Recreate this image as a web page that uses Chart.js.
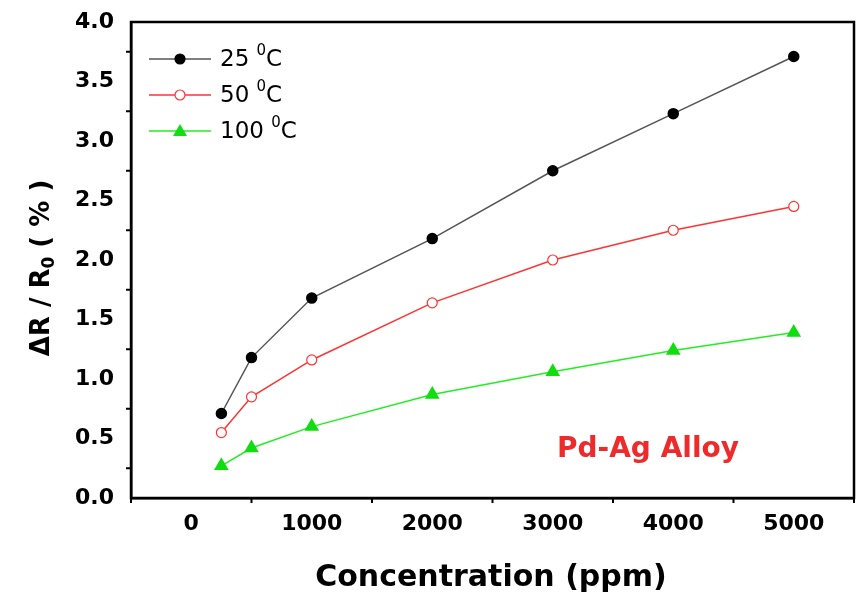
<!DOCTYPE html>
<html>
<head>
<meta charset="utf-8">
<script src="https://cdn.jsdelivr.net/npm/chart.js@4.4.1/dist/chart.umd.min.js"></script>
<style>
  html, body { margin: 0; padding: 0; background: #fff; }
  #wrap { width: 868px; height: 595px; }
</style>
</head>
<body>
<div id="wrap"><canvas id="chart"></canvas></div>
<script>
// concentrations (ppm)
const concentration = [250, 500, 1000, 2000, 3000, 4000, 5000];
// dR/R0 (%) per temperature
const temp25 = [0.71, 1.18, 1.68, 2.18, 2.75, 3.23, 3.71];
const temp50 = [0.55, 0.85, 1.16, 1.64, 2.00, 2.25, 2.45];
const temp100 = [0.27, 0.42, 0.60, 0.87, 1.06, 1.24, 1.39];
const seriesNames = ["25", "50", "100"];
const xTicks = [0, 1000, 2000, 3000, 4000, 5000];

const toPts = arr => arr.map((v, i) => ({ x: concentration[i], y: v }));
const FAM = "'DejaVu Sans', 'Liberation Sans', Arial, sans-serif";

// draws frame, minor ticks, legend, axis titles and note
const extras = {
  id: "extras",
  afterDraw(chart) {
    const ctx = chart.ctx;
    const a = chart.chartArea;
    const xs = chart.scales.x, ys = chart.scales.y;
    ctx.save();
    // frame
    ctx.strokeStyle = "#000";
    ctx.lineWidth = 2.5;
    ctx.strokeRect(a.left, a.top, a.right - a.left, a.bottom - a.top);
    // minor ticks
    ctx.lineWidth = 2;
    for (let v = -500; v <= 5500; v += 1000) {
      const px = xs.getPixelForValue(v);
      ctx.beginPath(); ctx.moveTo(px, a.bottom); ctx.lineTo(px, a.bottom + 5); ctx.stroke();
    }
    for (let v = 0.25; v < 4; v += 0.5) {
      const py = ys.getPixelForValue(v);
      ctx.beginPath(); ctx.moveTo(a.left, py); ctx.lineTo(a.left - 5, py); ctx.stroke();
    }
    // legend
    chart.data.datasets.forEach((ds, i) => {
      const y = 59 + i * 36;
      ctx.strokeStyle = ds.borderColor;
      ctx.lineWidth = 1.5;
      ctx.beginPath(); ctx.moveTo(149, y); ctx.lineTo(211, y); ctx.stroke();
      if (ds.pointStyle === "triangle") {
        ctx.fillStyle = ds.pointBackgroundColor;
        ctx.beginPath();
        ctx.moveTo(180, y - 7); ctx.lineTo(187, y + 5); ctx.lineTo(173, y + 5);
        ctx.closePath(); ctx.fill();
      } else {
        ctx.beginPath(); ctx.arc(180, y, 5, 0, Math.PI * 2);
        ctx.fillStyle = ds.pointBackgroundColor; ctx.fill();
        ctx.strokeStyle = ds.pointBorderColor; ctx.lineWidth = 1.2; ctx.stroke();
      }
      ctx.fillStyle = "#000";
      ctx.textBaseline = "middle";
      ctx.textAlign = "left";
      ctx.font = "23px " + FAM;
      const t = seriesNames[i] + " ";
      ctx.fillText(t, 220, y + 1);
      let x = 220 + ctx.measureText(t).width;
      ctx.font = "15px " + FAM;
      ctx.fillText("0", x, y - 8);
      x += ctx.measureText("0").width;
      ctx.font = "23px " + FAM;
      ctx.fillText("C", x, y + 1);
    });
    // x title
    ctx.fillStyle = "#000";
    ctx.font = "bold 30px " + FAM;
    ctx.textAlign = "center";
    ctx.textBaseline = "middle";
    ctx.fillText("Concentration (ppm)", 491, 578);
    // y title with subscript
    ctx.save();
    ctx.translate(42, 268);
    ctx.rotate(-Math.PI / 2);
    const big = "bold 26px " + FAM;
    const small = "bold 17px " + FAM;
    const parts = [["\u0394R / R", big, 0], ["0", small, 8], [" ( % )", big, 0]];
    let w = 0;
    parts.forEach(p => { ctx.font = p[1]; w += ctx.measureText(p[0]).width; });
    let cx = -w / 2;
    ctx.textAlign = "left";
    parts.forEach(p => {
      ctx.font = p[1];
      ctx.fillText(p[0], cx, p[2]);
      cx += ctx.measureText(p[0]).width;
    });
    ctx.restore();
    // note
    ctx.fillStyle = "#ee2a2a";
    ctx.font = "bold 28px " + FAM;
    ctx.textAlign = "left";
    ctx.fillText("Pd-Ag Alloy", 557, 450);
    ctx.restore();
  }
};

new Chart(document.getElementById("chart"), {
  type: "line",
  data: {
    datasets: [
      {
        label: "25 C", data: toPts(temp25),
        borderColor: "#555", borderWidth: 1.5,
        pointStyle: "circle", pointRadius: 5,
        pointBackgroundColor: "#000", pointBorderColor: "#000"
      },
      {
        label: "50 C", data: toPts(temp50),
        borderColor: "#ff3333", borderWidth: 1.5,
        pointStyle: "circle", pointRadius: 5, pointBorderWidth: 1.2,
        pointBackgroundColor: "#fff", pointBorderColor: "#ff3333"
      },
      {
        label: "100 C", data: toPts(temp100),
        borderColor: "#22ee22", borderWidth: 1.5,
        pointStyle: "triangle", pointRadius: 7,
        pointBackgroundColor: "#11dd11", pointBorderColor: "#11dd11"
      }
    ]
  },
  options: {
    responsive: true,
    maintainAspectRatio: false,
    animation: false,
    layout: { padding: { left: 0, right: 14, top: 22, bottom: 0 } },
    plugins: { legend: { display: false }, tooltip: { enabled: false } },
    scales: {
      x: {
        type: "linear", min: -500, max: 5500,
        afterFit: s => { s.height = 97; },
        afterBuildTicks: s => { s.ticks = xTicks.map(v => ({ value: v })); },
        grid: { display: false, drawTicks: true, tickLength: 9, tickWidth: 2, tickColor: "#000" },
        border: { display: true, color: "#000", width: 2.5 },
        ticks: { color: "#000", font: { family: FAM, size: 22, weight: "bold" }, padding: 4, maxRotation: 0, callback: v => String(v) }
      },
      y: {
        min: 0, max: 4,
        afterFit: s => { s.width = 131; },
        grid: { display: false, drawTicks: true, tickLength: 9, tickWidth: 2, tickColor: "#000" },
        border: { display: true, color: "#000", width: 2.5 },
        ticks: { stepSize: 0.5, color: "#000", font: { family: FAM, size: 22, weight: "bold" }, padding: 8, callback: v => v.toFixed(1) }
      }
    }
  },
  plugins: [extras]
});
</script>
</body>
</html>
